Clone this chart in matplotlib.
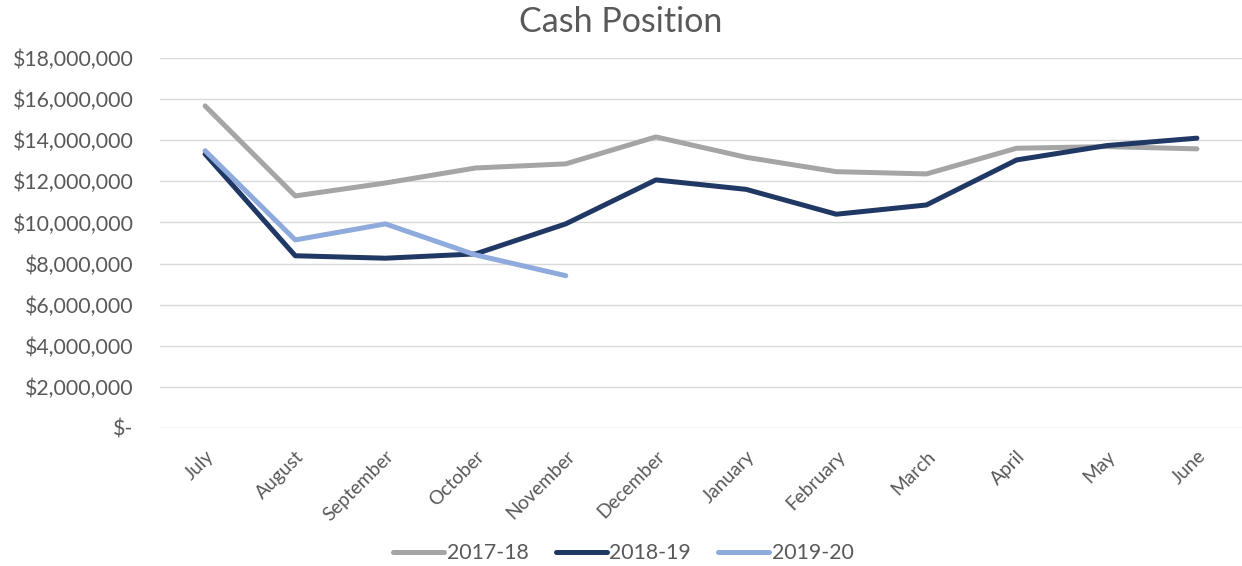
import matplotlib
matplotlib.use("Agg")
import matplotlib.pyplot as plt
from matplotlib.ticker import FuncFormatter

months = ["July", "August", "September", "October", "November", "December",
          "January", "February", "March", "April", "May", "June"]
fy_2017_18 = [15.67, 11.29, 11.92, 12.65, 12.85, 14.16, 13.17, 12.47, 12.36, 13.61, 13.69, 13.58]
fy_2018_19 = [13.33, 8.38, 8.26, 8.47, 9.93, 12.07, 11.61, 10.40, 10.85, 13.04, 13.74, 14.10]
fy_2019_20 = [13.49, 9.15, 9.93, 8.42, 7.41]
series_names = ["2017-18", "2018-19", "2019-20"]
colors = ["#A5A5A5", "#203864", "#8FAADC"]

plt.rcParams['font.family'] = ['Lato', 'DejaVu Sans']
text_color = "#595959"

fig = plt.figure(figsize=(12.42, 5.66), dpi=100)
ax = fig.add_axes([160/1242, 1-428/566, 1082/1242, (428-58)/566])

x = list(range(len(months)))
for vals, name, c in zip([fy_2017_18, fy_2018_19, fy_2019_20], series_names, colors):
    ax.plot(x[:len(vals)], [v * 1e6 for v in vals], color=c, lw=3.6,
            label=name, solid_capstyle='round', solid_joinstyle='round')

ax.set_xlim(-0.5, len(months) - 0.5)
ax.set_ylim(0, 18e6)
ax.set_yticks([i * 2e6 for i in range(10)])
ax.yaxis.set_major_formatter(FuncFormatter(lambda v, p: "$-" if v == 0 else f"${v:,.0f}"))
ax.grid(axis='y', color='#D9D9D9', lw=1)
ax.set_axisbelow(True)
for s in ax.spines.values():
    s.set_visible(False)
ax.tick_params(axis='both', length=0, colors=text_color)
ax.tick_params(axis='y', pad=19, labelsize=15.3)
ax.set_xticks(x)
ax.set_xticklabels(months, rotation=45, ha='right', rotation_mode='anchor')
for lbl in ax.get_xticklabels():
    lbl.set_fontsize(13.8)
ax.tick_params(axis='x', pad=14)

fig.text(0.5, 1 - 22/566, "Cash Position", ha='center', va='center',
         fontsize=24.5, color=text_color)

leg = fig.legend(loc='center', bbox_to_anchor=(0.502, 1 - 553/566), ncol=3,
                 frameon=False, fontsize=15.3, handlelength=2.4, handletextpad=0.1,
                 columnspacing=1.3)
for t in leg.get_texts():
    t.set_color(text_color)

fig.savefig("out.png", dpi=100)
